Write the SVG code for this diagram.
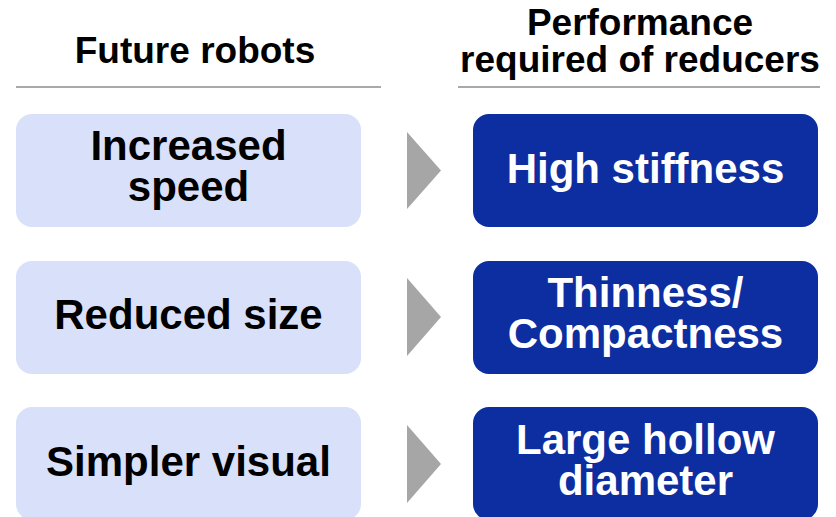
<svg xmlns="http://www.w3.org/2000/svg" width="836" height="517" viewBox="0 0 836 517">
<style>
text{font-family:"Liberation Sans",Arial,sans-serif;font-weight:bold;text-anchor:middle}
.hd{font-size:37px;fill:#000}
.lt{fill:#D9E0FA}
.dk{fill:#0D2EA0}
.lt-t{font-size:42px;fill:#000}
.dk-t{font-size:42px;fill:#fff}
.rule{stroke:#8C8C8C;stroke-width:1.5}
.arr{fill:#A6A6A6}
</style>
<rect width="836" height="517" fill="#fff"/>
<g id="header-left">
<text class="hd" x="195" y="63">Future robots</text>
<line class="rule" x1="16" y1="87" x2="381" y2="87"/>
</g>
<g id="header-right">
<text class="hd" x="640" y="35">Performance</text>
<text class="hd" x="640" y="72">required of reducers</text>
<line class="rule" x1="458" y1="87" x2="820" y2="87"/>
</g>
<g id="node-increased-speed">
<rect class="lt" x="16" y="114" width="345" height="113" rx="16"/>
<text class="lt-t" x="188.5" y="160">Increased</text>
<text class="lt-t" x="188.5" y="201">speed</text>
</g>
<g id="node-high-stiffness">
<rect class="dk" x="473" y="114" width="345" height="113" rx="16"/>
<text class="dk-t" x="645.5" y="183">High stiffness</text>
</g>
<g id="node-reduced-size">
<rect class="lt" x="16" y="261" width="345" height="113" rx="16"/>
<text class="lt-t" x="188.5" y="329">Reduced size</text>
</g>
<g id="node-thinness">
<rect class="dk" x="473" y="261" width="345" height="113" rx="16"/>
<text class="dk-t" x="645.5" y="307">Thinness/</text>
<text class="dk-t" x="645.5" y="348">Compactness</text>
</g>
<g id="node-simpler-visual">
<rect class="lt" x="16" y="407" width="345" height="113" rx="16"/>
<text class="lt-t" x="188.5" y="476">Simpler visual</text>
</g>
<g id="node-large-hollow">
<rect class="dk" x="473" y="407" width="345" height="113" rx="16"/>
<text class="dk-t" x="645.5" y="454">Large hollow</text>
<text class="dk-t" x="645.5" y="495">diameter</text>
</g>
<g id="connectors">
<polygon class="arr" points="407,132 441,170.5 407,209"/>
<polygon class="arr" points="407,278 441,317 407,356"/>
<polygon class="arr" points="407,425 441,464 407,503"/>
</g>
</svg>
